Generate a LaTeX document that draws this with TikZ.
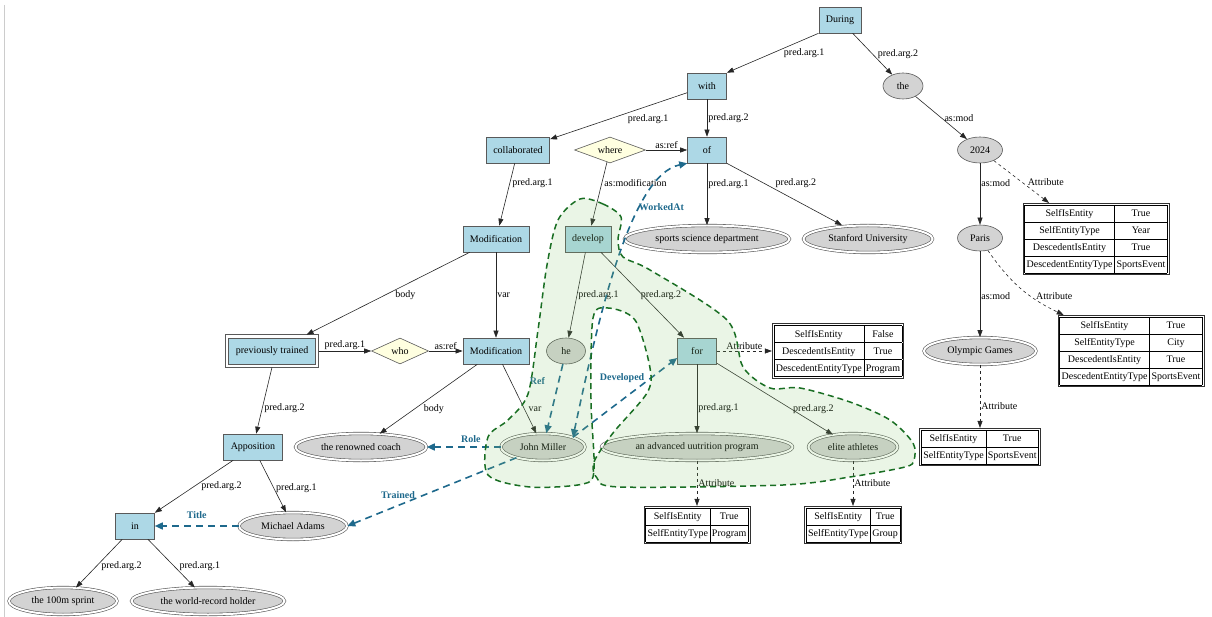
\documentclass[tikz,border=0pt]{standalone}
\usepackage{fontspec}
\setmainfont{Liberation Serif}
\usetikzlibrary{shapes.geometric, arrows.meta}

\definecolor{boxblue}{HTML}{ADD8E6}
\definecolor{entgray}{HTML}{D3D3D3}
\definecolor{condyellow}{HTML}{FFFFE0}
\definecolor{relblue}{RGB}{30,105,140}
\definecolor{grpgreen}{RGB}{25,110,35}
\definecolor{grpfill}{RGB}{140,200,115}

\newcommand{\attrtab}[1]{{\renewcommand{\arraystretch}{1.38}\setlength{\tabcolsep}{2pt}\begin{tabular}{|c|c|}\hline #1\end{tabular}}}

\begin{document}
\begin{tikzpicture}[x=1pt, y=-1pt, >={Triangle[length=7pt,width=5pt]},
        every node/.style={font=\fontsize{10}{12}\selectfont},
        pred/.style={rectangle, draw=black!65, line width=0.6pt, fill=boxblue, minimum width=39, minimum height=26, inner xsep=7, inner ysep=0},
        dpred/.style={pred, minimum width=84, minimum height=26},
        ent/.style={ellipse, draw=black!65, line width=0.6pt, fill=entgray, minimum height=26, inner sep=0},
        dent/.style={ent, double=white, double distance=2pt, minimum height=27},
        cond/.style={diamond, draw=black!65, line width=0.6pt, fill=condyellow, aspect=3, minimum height=26, inner sep=0},
        attr/.style={draw=black!80, line width=0.8pt, fill=white, inner sep=1.5pt},
        lbl/.style={inner sep=1pt},
        rellbl/.style={inner sep=1pt, text=relblue, font=\fontsize{10}{12}\selectfont\bfseries},
        link/.style={->, draw=black!85, line width=0.6pt},
        attrlink/.style={link, dashed},
        rel/.style={->, draw=relblue, line width=1.6pt, dash pattern=on 7pt off 5pt, >={Triangle[length=8pt,width=7pt]}},
        grp/.style={draw=grpgreen, line width=1.5pt, dash pattern=on 6pt off 4pt, fill=grpfill, fill opacity=0.18}]
        \useasboundingbox (0,0) rectangle (1212,617);
        \draw[black!20] (4,5) -- (4,617);

        % Nodes
        \node[pred] (during) at (840,20) {During};
        \node[pred] (with) at (707,86) {with};
        \node[ent, minimum width=40] (the) at (903,86) {the};
        \node[pred] (collab) at (518,150) {collaborated};
        \node[cond, minimum width=71] (where) at (610,150) {where};
        \node[pred] (of) at (707,150) {of};
        \node[ent, minimum width=45] (y2024) at (980,150) {2024};
        \node[pred] (modup) at (496,239) {Modification};
        \node[pred] (develop) at (588,239) {develop};
        \node[dent, minimum width=165] (dept) at (707,239) {sports science department};
        \node[dent, minimum width=129] (stanford) at (868,239) {Stanford University};
        \node[ent, minimum width=45] (paris) at (980,238) {Paris};
        \node[dpred] (prev) at (272,351) {previously trained};
        \draw[black!65, line width=0.6pt] ([xshift=-3,yshift=-3]prev.south west) rectangle ([xshift=3,yshift=3]prev.north east);
        \node[cond, minimum width=57] (who) at (400,351) {who};
        \node[pred] (modlow) at (496,351) {Modification};
        \node[ent, minimum width=39] (he) at (566,351) {he};
        \node[pred] (for) at (697,351) {for};
        \node[dent, minimum width=112] (olympic) at (980,351) {Olympic Games};
        \node[dent, minimum width=131] (coach) at (361,447) {the renowned coach};
        \node[dent, minimum width=84] (john) at (543,447) {John Miller};
        \node[dent, minimum width=191] (program) at (697,447) {an advanced uutrition program};
        \node[dent, minimum width=89] (athletes) at (853,447) {elite athletes};
        \node[pred] (appos) at (253,447) {Apposition};
        \node[pred] (in) at (135,526) {in};
        \node[dent, minimum width=108] (adams) at (293,526) {Michael Adams};
        \node[dent, minimum width=108] (sprint) at (63,601) {the 100m sprint};
        \node[dent, minimum width=153] (holder) at (208,601) {the world-record holder};

        % Attribute tables
        \node[attr] (t2024) at (1096,239) {\attrtab{SelfIsEntity & True \\ \hline SelfEntityType & Year \\ \hline DescedentIsEntity & True \\ \hline DescedentEntityType & SportsEvent \\ \hline}};
        \node[attr] (tparis) at (1131,351) {\attrtab{SelfIsEntity & True \\ \hline SelfEntityType & City \\ \hline DescedentIsEntity & True \\ \hline DescedentEntityType & SportsEvent \\ \hline}};
        \node[attr] (tolympic) at (980,447) {\attrtab{SelfIsEntity & True \\ \hline SelfEntityType & SportsEvent \\ \hline}};
        \node[attr] (tfor) at (838,351) {\attrtab{SelfIsEntity & False \\ \hline DescedentIsEntity & True \\ \hline DescedentEntityType & Program \\ \hline}};
        \node[attr] (tprog) at (697,525) {\attrtab{SelfIsEntity & True \\ \hline SelfEntityType & Program \\ \hline}};
        \node[attr] (tgroup) at (853,525) {\attrtab{SelfIsEntity & True \\ \hline SelfEntityType & Group \\ \hline}};

        % Edges
        \draw[link] (during.south west) -- (with.north east) node[lbl, midway, right, xshift=10] {pred.arg.1};
        \draw[link] (during) -- (the) node[lbl, midway, right, xshift=4] {pred.arg.2};
        \draw[link] (with) -- (collab) node[lbl, midway, right, xshift=8, yshift=-3] {pred.arg.1};
        \draw[link] (with) -- (of) node[lbl, midway, right] {pred.arg.2};
        \draw[link] (where) -- (of) node[lbl, midway, above] {as:ref};
        \draw[link] (where) -- (develop) node[lbl, midway, right, xshift=4, yshift=11] {as:modification};
        \draw[link] (of) -- (dept) node[lbl, midway, right, yshift=10] {pred.arg.1};
        \draw[link] (of.south east) -- ([xshift=-26]stanford.north) node[lbl, midway, right, xshift=-10, yshift=11] {pred.arg.2};
        \draw[link] (collab) -- (modup) node[lbl, midway, right, xshift=4, yshift=11] {pred.arg.1};
        \draw[link] (the) -- (y2024) node[lbl, midway, right, xshift=2] {as:mod};
        \draw[link] (y2024) -- (paris) node[lbl, midway, right, yshift=11] {as:mod};
        \draw[attrlink] (y2024) -- (t2024) node[lbl, midway, right, xshift=5] {Attribute};
        \draw[link] (paris) -- (olympic) node[lbl, midway, right, yshift=-2] {as:mod};
        \draw[attrlink] (paris) to[bend right=15] node[lbl, midway, right, xshift=14, yshift=-8] {Attribute} ([xshift=6]tparis.north west);
        \draw[attrlink] (olympic) -- (tolympic) node[lbl, midway, right, yshift=-10] {Attribute};
        \draw[link] (modup) -- ([xshift=-9,yshift=3]prev.north east) node[lbl, midway, right, xshift=6, yshift=-2] {body};
        \draw[link] (modup) -- (modlow) node[lbl, midway, right] {var};
        \draw[link] (develop) -- (he) node[lbl, midway, right] {pred.arg.1};
        \draw[link] (develop) -- (for) node[lbl, midway, right, xshift=-3] {pred.arg.2};
        \draw[link] ([xshift=3]prev.east) -- (who) node[lbl, midway, above] {pred.arg.1};
        \draw[link] (who) -- (modlow) node[lbl, midway, above] {as:ref};
        \draw[attrlink] (for) -- (tfor) node[lbl, midway, above] {Attribute};
        \draw[link] (modlow) -- (coach) node[lbl, midway, right, xshift=-6, yshift=-10] {body};
        \draw[link] (modlow) -- (john) node[lbl, midway, right, xshift=8, yshift=-10] {var};
        \draw[link] (for) -- (program) node[lbl, midway, right, yshift=-9] {pred.arg.1};
        \draw[link] (for) -- (athletes) node[lbl, midway, right, xshift=17, yshift=-10] {pred.arg.2};
        \draw[link] ([yshift=-3]prev.south) -- (appos) node[lbl, midway, right, xshift=-1, yshift=-8] {pred.arg.2};
        \draw[link] (appos) -- (in) node[lbl, midway, right, xshift=6] {pred.arg.2};
        \draw[link] (appos) -- (adams) node[lbl, midway, right, xshift=2, yshift=-2] {pred.arg.1};
        \draw[link] (in) -- (sprint) node[lbl, midway, right, xshift=1, yshift=-3] {pred.arg.2};
        \draw[link] (in) -- (holder) node[lbl, midway, right, xshift=7, yshift=-3] {pred.arg.1};
        \draw[attrlink] (program) -- (tprog) node[lbl, midway, right] {Attribute};
        \draw[attrlink] (athletes) -- (tgroup) node[lbl, midway, right] {Attribute};

        % Relations
        \draw[rel, <->] (john.north east) .. controls (598,320) and (630,175) .. (of.south west) node[rellbl, pos=0.7, right, xshift=-5, yshift=-2] {WorkedAt};
        \draw[rel] (he) -- (john) node[rellbl, pos=0.25, left, xshift=-12] {Ref};
        \draw[rel] (john.north east) -- ([yshift=-7]for.west) node[rellbl, midway, above, xshift=-3, yshift=13] {Developed};
        \draw[rel] (john) -- (coach) node[rellbl, midway, above, xshift=7, yshift=3] {Role};
        \draw[rel] (john) -- (adams.east) node[rellbl, pos=0.7, above, yshift=5] {Trained};
        \draw[rel] (adams) -- (in) node[rellbl, midway, above, yshift=6] {Title};

        % Group
        \draw[grp] plot[smooth cycle] coordinates {(580,199) (603,204) (621,217) (618,240) (623,257) (650,270) (727,320) (743,367) (770,388) (800,388) (850,402) (890,420) (913,443) (914,460) (905,467) (850,477) (783,485) (620,487) (597,478) (594,462) (613,433) (647,393) (650,368) (635,320) (608,308) (593,318) (591,400) (594,470) (583,484) (530,487) (488,475) (488,437) (508,420) (528,394) (538,330) (547,265) (558,220)};
\end{tikzpicture}
\end{document}
